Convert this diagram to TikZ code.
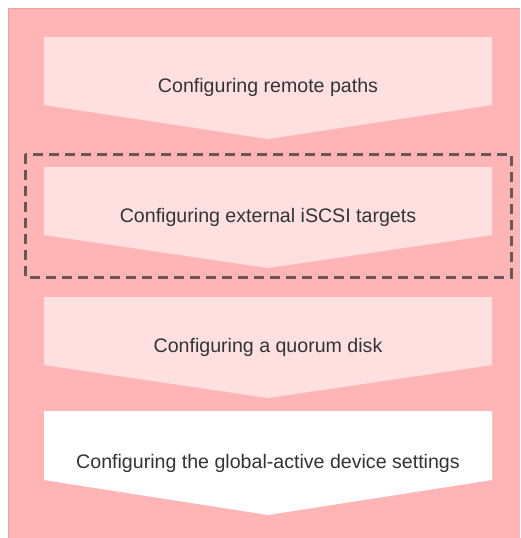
\documentclass[tikz,border=0pt]{standalone}
\usepackage{fontspec}
\setmainfont{Liberation Sans}
\begin{document}
\begin{tikzpicture}[x=1pt,y=-1pt,
  steplabel/.style={text=black!80, font=\fontsize{19.6pt}{23pt}\selectfont, inner sep=0pt},
  groupbox/.style={draw=groupline, line width=3pt, dash pattern=on 10pt off 6pt}]
\definecolor{bgpink}{HTML}{FFB5B5}
\definecolor{bgedge}{HTML}{F59C9C}
\definecolor{boxpink}{HTML}{FFE0E0}
\definecolor{groupline}{HTML}{6A5656}
\useasboundingbox (0,0) rectangle (520,538);
\fill[white] (0,0) rectangle (520,538);
\fill[bgpink] (8,8) rectangle (520,538);
\draw[bgedge, line width=1.2pt] (8.6,538) -- (8.6,8.6) -- (520,8.6);
% step 1
\fill[boxpink] (44,37) -- (492,37) -- (492,105) -- (268,139) -- (44,105) -- cycle;
\node[steplabel] (s1) at (268,87) {Configuring remote paths};
% step 2
\fill[boxpink] (44,167) -- (492,167) -- (492,235) -- (268,268) -- (44,235) -- cycle;
\node[steplabel] (s2) at (268,217) {Configuring external iSCSI targets};
\draw[groupbox] (25,154) rectangle (511,277);
% step 3
\fill[boxpink] (44,297) -- (492,297) -- (492,365) -- (268,398) -- (44,365) -- cycle;
\node[steplabel] (s3) at (268,347) {Configuring a quorum disk};
% step 4
\fill[white] (44,411) -- (492,411) -- (492,480) -- (268,515) -- (44,480) -- cycle;
\node[steplabel] (s4) at (268,463) {Configuring the global-active device settings};
\end{tikzpicture}
\end{document}
